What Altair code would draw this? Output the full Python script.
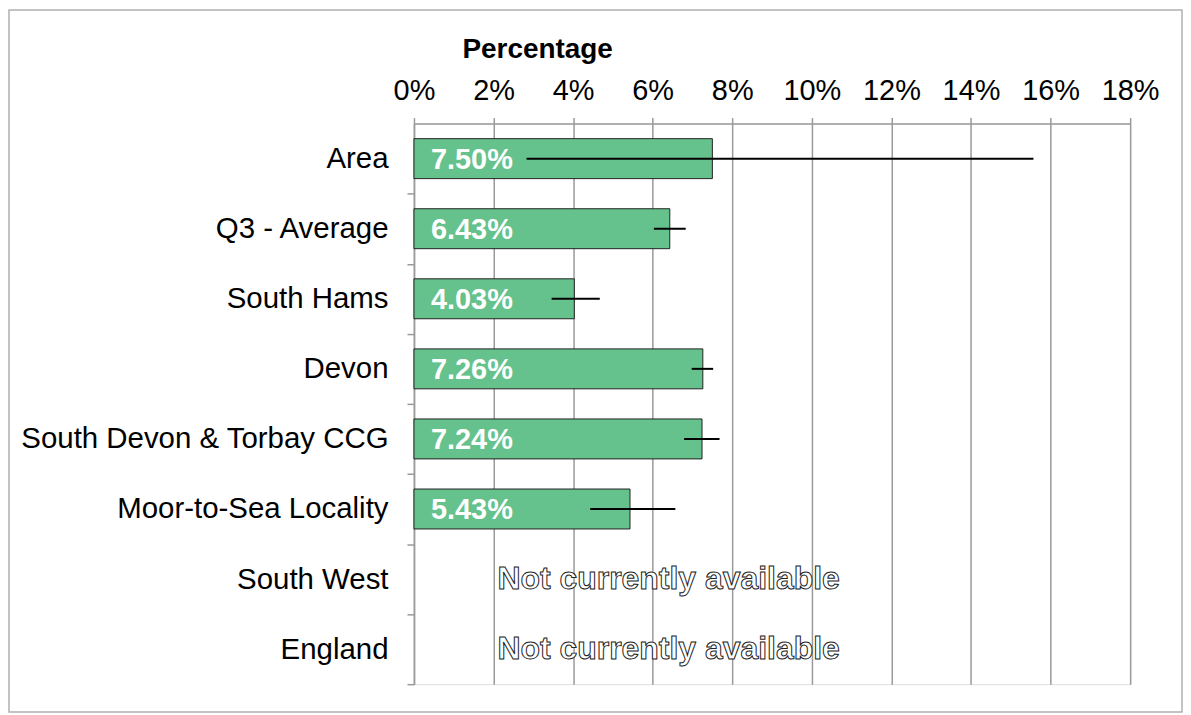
import altair as alt
import pandas as pd

categories = ["Area", "Q3 - Average", "South Hams", "Devon",
              "South Devon & Torbay CCG", "Moor-to-Sea Locality",
              "South West", "England"]
values = [7.50, 6.43, 4.03, 7.26, 7.24, 5.43, None, None]
lower = [2.83, 6.03, 3.46, 6.98, 6.79, 4.43, None, None]
upper = [15.57, 6.83, 4.67, 7.52, 7.68, 6.57, None, None]
x_ticks = [0, 2, 4, 6, 8, 10, 12, 14, 16, 18]
na_text = "Not currently available"

df = pd.DataFrame({"cat": categories, "value": values, "lo": lower, "hi": upper})

FONT = "Liberation Sans"
GRID = "#9a9a9a"
W, H = 718, 562
STEP = H / len(categories)
PAD = {"left": 407, "top": 115, "right": 53, "bottom": 29}

y_enc = alt.Y("cat:N", sort=categories, title=None,
              scale=alt.Scale(paddingInner=0.43, paddingOuter=0.215),
              axis=alt.Axis(labelFont=FONT, labelFontSize=29.5, labelColor="#000",
                            labelPadding=19, tickSize=7, tickColor=GRID, tickWidth=1.5,
                            domainColor=GRID, domainWidth=1.5,
                            tickOffset=STEP / 2, labelOffset=-STEP / 2,
                            labelBaseline="middle", labelLimit=500))

x_scale = alt.Scale(domain=[0, 18], nice=False, zero=True)
x_axis = alt.Axis(values=x_ticks, orient="top", labelExpr="datum.value + '%'",
                  labelFont=FONT, labelFontSize=29, labelColor="#000",
                  labelBaseline="alphabetic", labelPadding=18, tickSize=6,
                  labelFlush=False, labelOverlap=False, labelAlign="center",
                  tickColor=GRID, tickWidth=1.5, domainColor=GRID, domainWidth=1.5,
                  grid=True, gridColor=GRID, gridWidth=1.5,
                  title="Percentage", titleFont=FONT, titleFontSize=28,
                  titleFontWeight="bold", titleColor="#000",
                  titleX=123.5, titleY=-66, titleAlign="center",
                  titleBaseline="alphabetic", titleAngle=0)

base = alt.Chart(df)

bars = base.transform_filter("isValid(datum.value)").mark_bar(
    color="#66c28c", stroke="#222222", strokeWidth=1
).encode(x=alt.X("value:Q", scale=x_scale, axis=x_axis), y=y_enc)

errs = base.transform_filter("isValid(datum.lo)").mark_rule(
    color="#000", strokeWidth=2
).encode(x="lo:Q", x2="hi:Q", y=alt.Y("cat:N", sort=categories))

labels = base.transform_filter("isValid(datum.value)").transform_calculate(
    label="format(datum.value, '.2f') + '%'"
).mark_text(align="left", baseline="middle", dx=17, dy=1, font=FONT,
            fontSize=29, fontWeight="bold", color="white"
).encode(x=alt.datum(0), y=alt.Y("cat:N", sort=categories), text="label:N")

na = base.transform_filter("!isValid(datum.value)").transform_calculate(
    label=f"'{na_text}'"
).mark_text(align="left", baseline="middle", dx=4, dy=0, font=FONT,
            fontSize=32, fontWeight="bold", fill="white", stroke="#222222",
            strokeWidth=1
).encode(x=alt.datum(2), y=alt.Y("cat:N", sort=categories), text="label:N")

frame = alt.Chart(alt.Data(values=[{}])).mark_rect(
    fill=None, fillOpacity=0, stroke="#b0b0b0", strokeWidth=1.5
).encode(x=alt.value(-PAD["left"] + 1), x2=alt.value(W + PAD["right"] - 1),
         y=alt.value(-PAD["top"] + 1), y2=alt.value(H + PAD["bottom"] - 1))

chart = alt.layer(bars, errs, labels, na, frame).properties(
    width=W, height=H,
    autosize=alt.AutoSizeParams(type="none"),
    padding=PAD,
).configure_view(stroke=None).configure(background="white")

chart.save("out.html", embed_options={"renderer": "svg", "actions": False})
